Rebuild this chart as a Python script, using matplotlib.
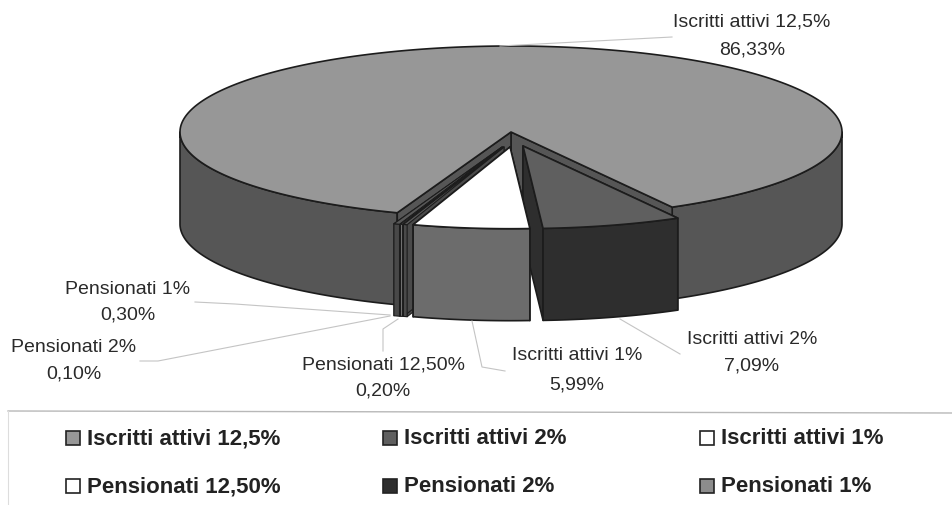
#!/usr/bin/env python3
import matplotlib
matplotlib.use('Agg')
import matplotlib.pyplot as plt
import numpy as np
from matplotlib.patches import Polygon, Rectangle

# Data
categories = ['Iscritti attivi 12,5%', 'Iscritti attivi 2%', 'Iscritti attivi 1%',
              'Pensionati 12,50%', 'Pensionati 2%', 'Pensionati 1%']
shares = [86.33, 7.09, 5.99, 0.20, 0.10, 0.30]

# Look of each slice
top_colors = ['#979797', '#5f5f5f', '#ffffff', '#5a5a5a', '#a0a0a0', '#585858']
wall_colors = ['#565656', '#2e2e2e', '#6c6c6c', '#4a4a4a', '#8c8c8c', '#484848']
legend_colors = ['#979797', '#5f5f5f', '#ffffff', '#ffffff', '#2e2e2e', '#8c8c8c']
shift_x = [0, 12, -1, -7, -8, -9]
shift_y = [0, 14, 15, 15, 15, 15]
scale = [1, 0.96, 0.95, 0.95, 0.95, 0.95]

# Pie geometry in pixels
cx, cy = 511, 133
rx, ry = 331, 86
depth = 92
start_angle = 249.9
edge = '#1c1c1c'

# label centre x, y of first line, y of second line
label_pos = [(752, 22, 50), (752, 339, 366), (577, 356, 385),
             (383, 365, 391), (74, 348, 374), (128, 289, 315)]
leaders = [[(672, 38), (500, 47)],
           [(620, 320), (680, 355)],
           [(472, 322), (482, 368), (505, 372)],
           [(398, 320), (383, 330), (383, 352)],
           [(390, 317), (158, 362), (140, 362)],
           [(390, 316), (235, 305), (195, 303)]]
legend_x = [66, 383, 700]
legend_y = [439, 487]


def arc(x0, y0, k, a0, a1, drop=0):
    t = np.radians(np.linspace(a0, a1, max(int(abs(a1 - a0) * 2), 2)))
    return np.column_stack([x0 + k * rx * np.cos(t), y0 - k * ry * np.sin(t) + drop])


def draw_top(ax, x0, y0, k, a0, a1, color, lw):
    pts = np.vstack([[(x0, y0)], arc(x0, y0, k, a0, a1)])
    ax.add_patch(Polygon(pts, closed=True, fc=color, ec=edge, lw=lw, joinstyle='round'))


def draw_wall(ax, x0, y0, k, a0, a1, color, lw):
    pts = np.vstack([arc(x0, y0, k, a0, a1), arc(x0, y0, k, a1, a0, depth)])
    ax.add_patch(Polygon(pts, closed=True, fc=color, ec=edge, lw=lw, joinstyle='round'))


def draw_cut(ax, x0, y0, k, a, color, lw):
    rim = arc(x0, y0, k, a, a)[0]
    pts = [(x0, y0), rim, (rim[0], rim[1] + depth), (x0, y0 + depth)]
    ax.add_patch(Polygon(pts, closed=True, fc=color, ec=edge, lw=lw, joinstyle='round'))


plt.rcParams['font.family'] = ['Liberation Sans', 'DejaVu Sans']
fig = plt.figure(figsize=(9.52, 5.06), dpi=100)
ax = fig.add_axes([0, 0, 1, 1])
ax.set_xlim(0, 952)
ax.set_ylim(506, 0)
ax.axis('off')

# Slice angles run clockwise from the start angle
spans = np.array(shares) / sum(shares) * 360
ends = start_angle - np.cumsum(spans)
starts = np.concatenate([[start_angle], ends[:-1]])

# Main slice first, it sits behind all the pulled out ones
draw_wall(ax, cx, cy, 1, ends[0], 0, wall_colors[0], 1.2)
draw_wall(ax, cx, cy, 1, 180, starts[0], wall_colors[0], 1.2)
draw_cut(ax, cx, cy, 1, ends[0], wall_colors[0], 1.2)
draw_cut(ax, cx, cy, 1, starts[0], wall_colors[0], 1.2)
draw_top(ax, cx, cy, 1, ends[0], starts[0], top_colors[0], 1.2)

# Pulled out slices, the white one last so it hides the cut faces of the thin ones
for i in [1, 5, 4, 3, 2]:
    x0 = cx + shift_x[i]
    y0 = cy + shift_y[i]
    lw = 1.2 if i < 3 else 0.8
    draw_cut(ax, x0, y0, scale[i], starts[i], wall_colors[i], lw)
    draw_cut(ax, x0, y0, scale[i], ends[i], wall_colors[i], lw)
    draw_wall(ax, x0, y0, scale[i], ends[i], starts[i], wall_colors[i], lw)
    draw_top(ax, x0, y0, scale[i], ends[i], starts[i], top_colors[i], lw)

# Data labels and their leader lines
for name, val, (lx, y1, y2), line in zip(categories, shares, label_pos, leaders):
    xs, ys = zip(*line)
    ax.plot(xs, ys, color='#c4c4c4', lw=0.8, zorder=1)
    ax.text(lx, y1, name, ha='center', va='center', fontsize=14, color='#2a2a2a')
    ax.text(lx, y2, f'{val:.2f}%'.replace('.', ','), ha='center', va='center',
            fontsize=14, color='#2a2a2a')

# Legend box, only the top and left sides show
ax.plot([8, 952], [412, 414], color='#b8b8b8', lw=1)
ax.plot([8, 8], [412, 506], color='#dddddd', lw=0.8)
for i, name in enumerate(categories):
    lx = legend_x[i % 3]
    ly = legend_y[i // 3]
    ax.add_patch(Rectangle((lx, ly - 7), 14, 14, fc=legend_colors[i], ec='#222222', lw=1.2))
    ax.text(lx + 21, ly, name, ha='left', va='center', fontsize=16,
            fontweight='bold', color='#222222')

fig.savefig('out.png', dpi=100)
